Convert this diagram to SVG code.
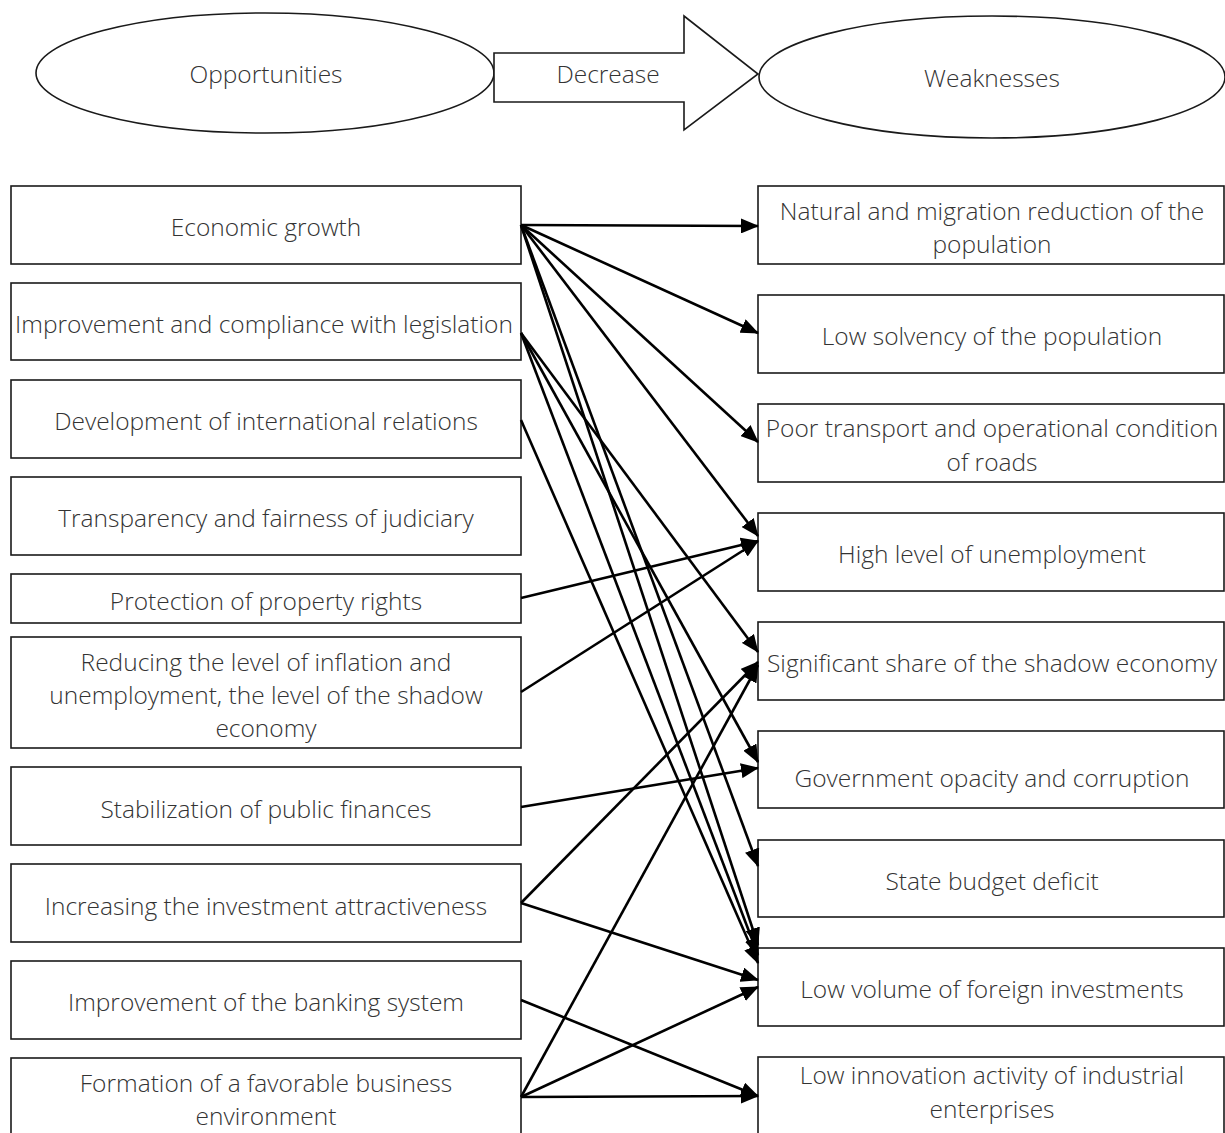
<svg xmlns="http://www.w3.org/2000/svg" width="1225" height="1133" viewBox="0 0 1225 1133">
<style>
.box{fill:#fff;stroke:#1a1a1a;stroke-width:1.6}
.t{font-family:"Open Sans","Noto Sans","DejaVu Sans",sans-serif;font-size:24.5px;font-weight:300;fill:#333;text-anchor:middle;dominant-baseline:central}
.c{fill:none;stroke:#000;stroke-width:2.6;marker-end:url(#ah)}
</style>
<defs>
<marker id="ah" markerUnits="userSpaceOnUse" markerWidth="18" markerHeight="15" refX="17" refY="7.5" orient="auto">
<path d="M0,0 L18,7.5 L0,15 z" fill="#000"/>
</marker>
</defs>
<rect width="1225" height="1133" fill="#fff"/>
<g id="opportunities"><ellipse class="box" cx="265" cy="73" rx="229" ry="60"/><text class="t" x="266" y="73">Opportunities</text></g>
<g id="decrease"><path class="box" d="M494,53 L684,53 L684,16 L758,74 L684,130 L684,102 L494,102 z"/><text class="t" x="608" y="73">Decrease</text></g>
<g id="weaknesses"><ellipse class="box" cx="992" cy="77" rx="233" ry="61"/><text class="t" x="992" y="77">Weaknesses</text></g>

<g id="o1"><rect class="box" x="11" y="186" width="510" height="78"/><text class="t" x="266" y="226">Economic growth</text></g>
<g id="o2"><rect class="box" x="11" y="283" width="510" height="77"/><text class="t" x="264" y="323">Improvement and compliance with legislation</text></g>
<g id="o3"><rect class="box" x="11" y="380" width="510" height="78"/><text class="t" x="266" y="420">Development of international relations</text></g>
<g id="o4"><rect class="box" x="11" y="477" width="510" height="78"/><text class="t" x="266" y="517">Transparency and fairness of judiciary</text></g>
<g id="o5"><rect class="box" x="11" y="574" width="510" height="49"/><text class="t" x="266" y="600">Protection of property rights</text></g>
<g id="o6"><rect class="box" x="11" y="637" width="510" height="111"/><text class="t" x="266" y="661">Reducing the level of inflation and</text><text class="t" x="266" y="694">unemployment, the level of the shadow</text><text class="t" x="266" y="727">economy</text></g>
<g id="o7"><rect class="box" x="11" y="767" width="510" height="78"/><text class="t" x="266" y="808">Stabilization of public finances</text></g>
<g id="o8"><rect class="box" x="11" y="864" width="510" height="78"/><text class="t" x="266" y="905">Increasing the investment attractiveness</text></g>
<g id="o9"><rect class="box" x="11" y="961" width="510" height="78"/><text class="t" x="266" y="1001">Improvement of the banking system</text></g>
<g id="o10"><rect class="box" x="11" y="1058" width="510" height="90"/><text class="t" x="266" y="1082">Formation of a favorable business</text><text class="t" x="266" y="1115">environment</text></g>

<g id="w1"><rect class="box" x="758" y="186" width="466" height="78"/><text class="t" x="992" y="210">Natural and migration reduction of the</text><text class="t" x="992" y="243">population</text></g>
<g id="w2"><rect class="box" x="758" y="295" width="466" height="78"/><text class="t" x="992" y="335">Low solvency of the population</text></g>
<g id="w3"><rect class="box" x="758" y="404" width="466" height="78"/><text class="t" x="992" y="427">Poor transport and operational condition</text><text class="t" x="992" y="461">of roads</text></g>
<g id="w4"><rect class="box" x="758" y="513" width="466" height="78"/><text class="t" x="992" y="553">High level of unemployment</text></g>
<g id="w5"><rect class="box" x="758" y="622" width="466" height="78"/><text class="t" x="992" y="662">Significant share of the shadow economy</text></g>
<g id="w6"><rect class="box" x="758" y="731" width="466" height="77"/><text class="t" x="992" y="777">Government opacity and corruption</text></g>
<g id="w7"><rect class="box" x="758" y="840" width="466" height="77"/><text class="t" x="992" y="880">State budget deficit</text></g>
<g id="w8"><rect class="box" x="758" y="948" width="466" height="78"/><text class="t" x="992" y="988">Low volume of foreign investments</text></g>
<g id="w9"><rect class="box" x="758" y="1057" width="466" height="90"/><text class="t" x="992" y="1074">Low innovation activity of industrial</text><text class="t" x="992" y="1108">enterprises</text></g>

<g id="connectors">
<line class="c" x1="521" y1="225" x2="758" y2="226"/>
<line class="c" x1="521" y1="225" x2="758" y2="333"/>
<line class="c" x1="521" y1="225" x2="758" y2="442"/>
<line class="c" x1="521" y1="225" x2="758" y2="536"/>
<line class="c" x1="521" y1="225" x2="758" y2="866"/>
<line class="c" x1="521" y1="225" x2="758" y2="945"/>
<line class="c" x1="521" y1="333" x2="758" y2="652"/>
<line class="c" x1="521" y1="333" x2="758" y2="762"/>
<line class="c" x1="521" y1="333" x2="758" y2="955"/>
<line class="c" x1="521" y1="420" x2="758" y2="963"/>
<line class="c" x1="521" y1="598" x2="758" y2="541"/>
<line class="c" x1="521" y1="692" x2="758" y2="541"/>
<line class="c" x1="521" y1="807" x2="758" y2="768"/>
<line class="c" x1="521" y1="903" x2="758" y2="662"/>
<line class="c" x1="521" y1="903" x2="758" y2="980"/>
<line class="c" x1="521" y1="1000" x2="758" y2="1096"/>
<line class="c" x1="521" y1="1097" x2="758" y2="665"/>
<line class="c" x1="521" y1="1097" x2="758" y2="987"/>
<line class="c" x1="521" y1="1097" x2="758" y2="1096"/>
</g>
</svg>
